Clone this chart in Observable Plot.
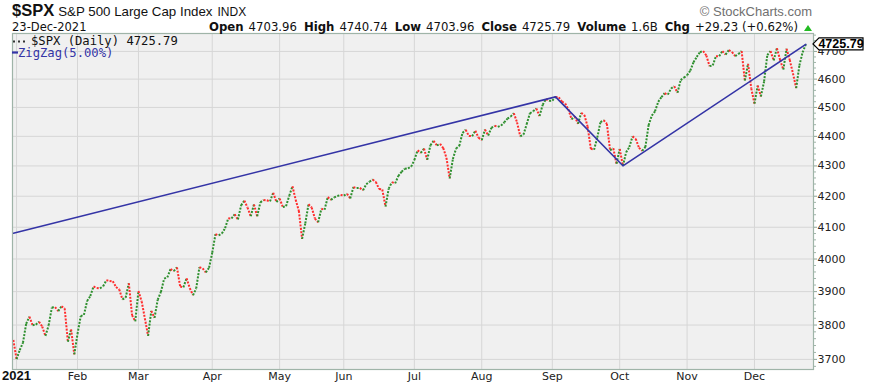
<!DOCTYPE html>
<html>
<head>
<meta charset="utf-8">
<script src="https://cdn.jsdelivr.net/npm/d3@7"></script>
<script src="https://cdn.jsdelivr.net/npm/@observablehq/plot@0.6"></script>
<style>
  html, body { margin: 0; padding: 0; background: #fff; }
  #chart { width: 870px; height: 389px; position: relative; }
</style>
</head>
<body>
<div id="chart"></div>
<script>
// Daily closes, index 0 = 31-Dec-2020, then every trading day of 2021 up to 23-Dec
const closes = [
  3756.07,
  // Jan
  3700.65, 3726.86, 3748.14, 3803.79, 3824.68, 3799.61, 3801.19, 3809.84, 3795.54, 3768.25,
  3798.91, 3851.85, 3853.07, 3841.47, 3855.36, 3849.62, 3750.77, 3787.38, 3714.24,
  // Feb
  3773.86, 3826.31, 3830.17, 3871.74, 3886.83, 3915.59, 3911.23, 3909.88, 3916.38, 3934.83,
  3932.59, 3931.33, 3913.97, 3906.71, 3876.50, 3881.37, 3925.43, 3829.34, 3811.15,
  // Mar
  3901.82, 3870.29, 3819.72, 3768.47, 3841.94, 3821.35, 3875.44, 3898.81, 3939.34, 3943.34,
  3968.94, 3962.71, 3974.12, 3915.46, 3913.10, 3940.59, 3910.52, 3889.14, 3909.52, 3974.54,
  3971.09, 3958.55, 3972.89,
  // Apr
  4019.87, 4077.91, 4073.94, 4079.95, 4097.17, 4128.80, 4127.99, 4141.59, 4124.66, 4170.42,
  4185.47, 4163.26, 4134.94, 4173.42, 4134.98, 4180.17, 4187.62, 4186.72, 4183.18, 4211.47,
  4181.17,
  // May
  4192.66, 4164.66, 4167.59, 4201.62, 4232.60, 4188.43, 4152.10, 4063.04, 4112.50, 4173.85,
  4163.29, 4127.83, 4115.68, 4159.12, 4155.86, 4197.05, 4188.13, 4195.99, 4200.88, 4204.11,
  // Jun
  4202.04, 4208.12, 4192.85, 4229.89, 4226.52, 4227.26, 4219.55, 4239.18, 4247.44, 4255.15,
  4246.59, 4223.70, 4221.86, 4166.45, 4224.79, 4246.44, 4241.84, 4266.49, 4280.70, 4290.61,
  4291.80, 4297.50,
  // Jul
  4319.94, 4352.34, 4343.54, 4358.13, 4320.82, 4369.55, 4384.63, 4369.21, 4374.30, 4360.03,
  4327.16, 4258.49, 4323.06, 4358.69, 4367.48, 4411.79, 4422.30, 4401.46, 4400.64, 4419.15,
  4395.26,
  // Aug
  4387.16, 4423.15, 4402.66, 4429.10, 4436.52, 4432.35, 4436.75, 4447.70, 4460.83, 4468.00,
  4479.71, 4448.08, 4400.27, 4405.80, 4441.67, 4479.53, 4486.23, 4496.19, 4470.00, 4509.37,
  4528.79, 4522.68,
  // Sep
  4524.09, 4536.95, 4535.43, 4520.03, 4514.07, 4493.28, 4458.58, 4468.73, 4443.05, 4480.70,
  4473.75, 4432.99, 4357.73, 4354.19, 4395.64, 4448.98, 4455.48, 4443.11, 4352.63, 4359.46,
  4307.54,
  // Oct
  4357.04, 4300.46, 4345.72, 4363.55, 4399.76, 4391.34, 4361.19, 4350.65, 4363.80, 4438.26,
  4471.37, 4486.46, 4519.63, 4536.19, 4549.78, 4544.90, 4566.48, 4574.79, 4551.68, 4596.42,
  4605.38,
  // Nov
  4613.67, 4630.65, 4660.57, 4680.06, 4697.53, 4701.70, 4685.25, 4646.71, 4649.27, 4682.85,
  4682.80, 4700.90, 4688.67, 4704.54, 4697.96, 4682.94, 4690.70, 4701.46, 4594.62, 4655.27,
  4567.00,
  // Dec
  4513.04, 4577.10, 4538.43, 4591.67, 4686.75, 4701.21, 4667.45, 4712.02, 4668.97, 4634.09,
  4709.85, 4668.67, 4620.64, 4568.02, 4649.23, 4696.56, 4725.79
];

// month start positions (trading-day index) and their labels
const monthIdx    = [1, 20, 39, 62, 83, 103, 125, 146, 168, 189, 210, 231];
const monthLabels = ["2021", "Feb", "Mar", "Apr", "May", "Jun", "Jul", "Aug", "Sep", "Oct", "Nov", "Dec"];

// ZigZag(5%) pivots
const zigIdx = [0, 169, 190, 247];
const zigVal = [4081, 4536.95, 4300.46, 4725.79];

// price axis ticks
const yTicks = [3700, 3800, 3900, 4000, 4100, 4200, 4300, 4400, 4500, 4600, 4700];
const yMinor = d3.range(3680, 4770, 20).filter(v => v % 100 !== 0);

const lastClose = closes[closes.length - 1];
const headerInfo = [
  ["Open", "4703.96"], ["High", "4740.74"], ["Low", "4703.96"],
  ["Close", "4725.79"], ["Volume", "1.6B"], ["Chg", "+29.23 (+0.62%)"]
];

const GREEN = "#2e8f2e", RED = "#ff2d2d", ZIG = "#3434a6";
const segs = closes.slice(1).map((v, k) => ({
  x1: k, y1: closes[k], x2: k + 1, y2: v, c: v >= closes[k] ? GREEN : RED
}));
const zig = zigIdx.map((x, i) => ({x, y: zigVal[i]}));

const chart = Plot.plot({
  width: 870,
  height: 389,
  marginTop: 33,
  marginBottom: 20,
  marginLeft: 12,
  marginRight: 57,
  style: {background: "#ffffff", fontFamily: "DejaVu Sans, sans-serif", fontSize: "11px", color: "#222"},
  x: {domain: [-0.26, 249.4], axis: null},
  y: {type: "log", domain: [3671, 4766], axis: null},
  color: {type: "identity"},
  marks: [
    Plot.frame({fill: "#f0f0f0", stroke: null}),
    Plot.gridX(monthIdx, {stroke: "#d6d6d6", strokeOpacity: 1, strokeWidth: 1}),
    Plot.gridY(yTicks, {stroke: "#d6d6d6", strokeOpacity: 1, strokeWidth: 1}),
    Plot.link(segs, {x1: "x1", y1: "y1", x2: "x2", y2: "y2", stroke: "c",
      strokeWidth: 2, strokeDasharray: "2,1.4"}),
    Plot.line(zig, {x: "x", y: "y", stroke: ZIG, strokeWidth: 1.6}),
    Plot.frame({stroke: "#9fb4a8", strokeWidth: 1.2}),
    Plot.axisY(yMinor, {anchor: "right", tickSize: 2, tickFormat: () => "", stroke: "#9fb4a8"}),
    Plot.axisY(yTicks, {anchor: "right", tickSize: 3, tickPadding: 1, tickFormat: d => String(d),
      stroke: "#8fa498", fill: "#222", fontSize: 11}),
    Plot.text(monthIdx.slice(1), {x: d => d, text: (d, i) => monthLabels[i + 1],
      frameAnchor: "bottom", dy: 10, fontSize: 11, fill: "#222"}),
    Plot.text(monthIdx.slice(0, 1), {x: d => d, text: () => monthLabels[0],
      frameAnchor: "bottom", dy: 10, fontSize: 13, fontWeight: "bold",
      fontFamily: "Liberation Sans, Arial, sans-serif", fill: "#111"})
  ]
});

document.getElementById("chart").appendChild(chart);

const svg = d3.select(chart);
const sans = "Liberation Sans, Arial, sans-serif";
const verd = "DejaVu Sans, Verdana, sans-serif";

// Title row
const t1 = svg.append("text").attr("x", 12).attr("y", 16).attr("text-anchor", "start")
  .attr("font-family", sans).attr("fill", "#111");
t1.append("tspan").attr("font-size", 16.5).attr("font-weight", "bold").text("$SPX");
t1.append("tspan").attr("font-size", 13.3).attr("dx", 4).text("S&P 500 Large Cap Index");
t1.append("tspan").attr("font-size", 12).attr("dx", 5).text("INDX");

// watermark
svg.append("text").attr("x", 812).attr("y", 16).attr("text-anchor", "end")
  .attr("font-family", sans).attr("font-size", 13).attr("fill", "#707070")
  .text("\u00A9 StockCharts.com");

// date + OHLC row
svg.append("text").attr("x", 12).attr("y", 31).attr("text-anchor", "start").attr("font-family", verd)
  .attr("font-size", 11.5).attr("fill", "#111").text("23-Dec-2021");

const t2 = svg.append("text").attr("x", 798).attr("y", 31).attr("text-anchor", "end")
  .attr("font-family", verd).attr("font-size", 11.7).attr("fill", "#111");
headerInfo.forEach(([k, v], i) => {
  t2.append("tspan").attr("font-weight", "bold").attr("dx", i === 0 ? 0 : 7).text(k);
  t2.append("tspan").attr("dx", 5).text(v);
});
// green up triangle
svg.append("path").attr("d", "M804,31 L812,31 L808,25 Z").attr("fill", "#22bb22");

// in-chart legend
const mono = "DejaVu Sans Mono, monospace";
svg.append("line").attr("x1", 13).attr("x2", 26).attr("y1", 41.5).attr("y2", 41.5)
  .attr("stroke", "#333").attr("stroke-width", 2).attr("stroke-dasharray", "2,3");
svg.append("text").attr("x", 31).attr("y", 45).attr("text-anchor", "start").attr("font-family", mono)
  .attr("font-size", 12.2).attr("fill", "#111").text("$SPX (Daily) " + lastClose.toFixed(2));
svg.append("line").attr("x1", 12).attr("x2", 18).attr("y1", 52.5).attr("y2", 52.5)
  .attr("stroke", ZIG).attr("stroke-width", 2.2);
svg.append("text").attr("x", 18).attr("y", 57).attr("text-anchor", "start").attr("font-family", mono)
  .attr("font-size", 12.2).attr("fill", ZIG).text("ZigZag(5.00%)");

// last value tag on the price axis
const yv = chart.scale("y").apply(lastClose);
const xr = chart.scale("x").range[1];
svg.append("path")
  .attr("d", `M${xr},${yv} L${xr + 6},${yv - 6} L${xr + 50},${yv - 6} L${xr + 50},${yv + 6} L${xr + 6},${yv + 6} Z`)
  .attr("fill", "#fff").attr("stroke", "#000").attr("stroke-width", 1.2);
svg.append("text").attr("x", xr + 28).attr("y", yv + 4.5).attr("text-anchor", "middle")
  .attr("font-family", sans).attr("font-size", 12.5).attr("font-weight", "bold").attr("fill", "#000")
  .text(lastClose.toFixed(2));
</script>
</body>
</html>
